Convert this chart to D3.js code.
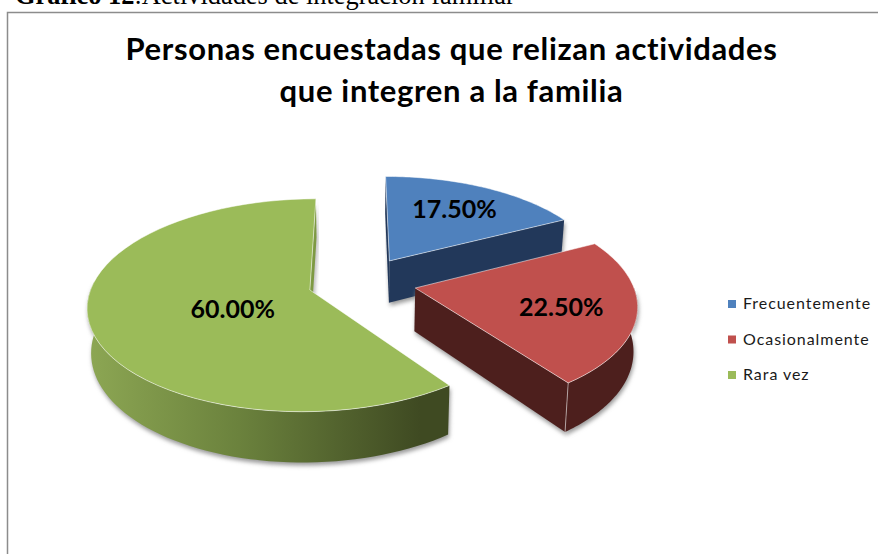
<!DOCTYPE html>
<html lang="en">
<head>
	<meta charset="UTF-8">
	<title>Actividades de integracion familiar</title>
<script src="https://d3js.org/d3.v7.min.js"></script>

<style>

body,html{
	margin: 0;
	padding: 0;
	background: white;
	overflow: hidden;
}

.caption{
	font-family: "Liberation Serif";
	font-size: 26.4px;
	fill: black;
}

.title{
	font-family: Lato;
	font-weight: bold;
	font-size: 31px;
	letter-spacing: 0.65px;
	fill: black;
	text-anchor: middle;
}

.value-label{
	font-family: Lato;
	font-weight: bold;
	font-size: 25px;
	fill: black;
	text-anchor: middle;
}

.legend-label{
	font-family: Lato;
	font-size: 16px;
	letter-spacing: 0.95px;
	fill: #1a1a1a;
}

.edge{
	fill: none;
	stroke: white;
	stroke-opacity: 0.65;
	stroke-width: 0.8px;
}

</style>

</head>
<body>
<script>
var categories = ["Frecuentemente", "Ocasionalmente", "Rara vez"];
var values = [17.5, 22.5, 60];
var titleLines = ["Personas encuestadas que relizan actividades", "que integren a la familia"];

var w = 878;
var h = 554;

var colors = d3.scaleOrdinal().domain(categories).range(["#4f81bd", "#c0504d", "#9bbb59"]);
var wallColors = d3.scaleOrdinal().domain(categories).range(["#22385a", "#4d1f1d", "#7e9a43"]);

// projection of the tilted pie
var cx = 362;
var cy = 282;
var vanishX = 358;
var radius = 217;
var radiusY = 102;
var perspective = 0.142;
var explode = 0.25;
var depth = 43;
var labelPos = {"Frecuentemente": 0.66, "Ocasionalmente": 0.665, "Rara vez": 0.36};
var labelDrop = {"Frecuentemente": -2, "Ocasionalmente": 3, "Rara vez": 7};

var svg = d3.select("body").append("svg")
			.attr("id", "chart")
			.attr("width", w)
			.attr("height", h);

var defs = svg.append("defs");

defs.append("filter")
	.attr("id", "soft")
	.attr("x", "-10%").attr("y", "-10%")
	.attr("width", "120%").attr("height", "120%")
	.append("feGaussianBlur")
	.attr("stdDeviation", 2);

var grad = defs.append("linearGradient")
	.attr("id", "greenWall")
	.attr("gradientUnits", "userSpaceOnUse")
	.attr("x1", 90).attr("y1", 0)
	.attr("x2", 420).attr("y2", 0);
grad.append("stop").attr("offset", "0%").attr("stop-color", "#8ca653");
grad.append("stop").attr("offset", "45%").attr("stop-color", "#6b823d");
grad.append("stop").attr("offset", "100%").attr("stop-color", "#3f4a22");

// frame and caption
svg.append("path")
	.attr("d", "M7.5," + h + "V12.5H" + w)
	.style("fill", "none")
	.style("stroke", "#8c8c8c")
	.style("stroke-width", "1.5px");

var caption = svg.append("text")
	.classed("caption", true)
	.attr("x", 15)
	.attr("y", 3.5);
caption.append("tspan").style("font-weight", "bold").text("Gráfico 12");
caption.append("tspan").text(":Actividades de integración familiar");

svg.selectAll(".title")
	.data(titleLines)
	.enter()
		.append("text")
		.classed("title", true)
		.attr("x", 451.5)
		.attr("y", function(d, i){ return 60 + i * 42; })
		.text(function(d){ return d; });

function project(u, v, drop){
	var s = 1 / (1 - perspective * v);
	var x = vanishX + (cx + radius * u - vanishX) * s;
	var y = cy + radiusY * v * s;
	if(drop){
		x = vanishX + (x - vanishX) * 0.985;
		y = y + depth * s;
	}
	return [x, y];
}

function rimPoint(slice, angle, f, drop){
	var mid = (slice.startAngle + slice.endAngle) / 2;
	var u = explode * Math.sin(mid) + f * Math.sin(angle);
	var v = -explode * Math.cos(mid) - f * Math.cos(angle);
	return project(u, v, drop);
}

function rim(slice, a0, a1, drop){
	return d3.range(0, 61).map(function(i){
		return rimPoint(slice, a0 + (a1 - a0) * i / 60, 1, drop);
	});
}

var line = d3.line();

function topPath(slice){
	var pts = [rimPoint(slice, 0, 0, false)].concat(rim(slice, slice.startAngle, slice.endAngle, false));
	return line(pts) + "Z";
}

function sideWall(slice, angle){
	return line([
		rimPoint(slice, 0, 0, false),
		rimPoint(slice, angle, 1, false),
		rimPoint(slice, angle, 1, true),
		rimPoint(slice, 0, 0, true)
	]) + "Z";
}

function outerWall(slice, a0, a1){
	return line(rim(slice, a0, a1, false).concat(rim(slice, a0, a1, true).reverse())) + "Z";
}

var pie = d3.pie().sort(null).value(function(d){ return d; });
var slices = pie(values);
slices.forEach(function(d, i){ d.name = categories[i]; });

// walls facing the viewer for each slice
function walls(d){
	var deg = Math.PI / 180;
	if(d.name == "Frecuentemente"){
		return [
			{path: sideWall(d, d.startAngle), fill: wallColors(d.name)},
			{path: sideWall(d, d.endAngle), fill: wallColors(d.name)}
		];
	}
	if(d.name == "Ocasionalmente"){
		return [
			{path: sideWall(d, d.endAngle), fill: wallColors(d.name)},
			{path: outerWall(d, 90 * deg, d.endAngle), fill: wallColors(d.name)}
		];
	}
	return [
		{path: sideWall(d, d.endAngle), fill: wallColors(d.name)},
		{path: outerWall(d, d.startAngle, 275 * deg), fill: "url(#greenWall)"}
	];
}

// back slice first, red last
var order = [slices[0], slices[2], slices[1]];

var groups = svg.selectAll(".slice")
	.data(order)
	.enter()
		.append("g")
		.attr("class", "slice");

groups.each(function(d){
	var g = d3.select(this);
	var list = walls(d);

	g.selectAll(".shadow")
		.data(list)
		.enter()
			.append("path")
			.attr("class", "shadow")
			.attr("d", function(p){ return p.path; })
			.attr("transform", "translate(1,3)")
			.attr("filter", "url(#soft)")
			.style("fill", "#9a9a9a");

	g.selectAll(".wall")
		.data(list)
		.enter()
			.append("path")
			.attr("class", "wall")
			.attr("d", function(p){ return p.path; })
			.style("fill", function(p){ return p.fill; });

	g.append("path")
		.attr("class", "top")
		.attr("d", topPath(d))
		.style("fill", colors(d.name));

	g.append("path")
		.classed("edge", true)
		.attr("d", topPath(d));
});

// corner highlight on the red slice
var redSlice = slices[1];
svg.append("path")
	.classed("edge", true)
	.attr("d", line([rimPoint(redSlice, redSlice.endAngle, 1, false), rimPoint(redSlice, redSlice.endAngle, 1, true)]));

var fmt = d3.format(".2f");

svg.selectAll(".value-label")
	.data(slices)
	.enter()
		.append("text")
		.classed("value-label", true)
		.attr("x", function(d){ return rimPoint(d, (d.startAngle + d.endAngle) / 2, labelPos[d.name], false)[0]; })
		.attr("y", function(d){ return rimPoint(d, (d.startAngle + d.endAngle) / 2, labelPos[d.name], false)[1] + labelDrop[d.name]; })
		.attr("dy", "0.36em")
		.text(function(d){ return fmt(d.value) + "%"; });

// legend
var legendY = d3.scalePoint().domain(categories).range([304, 375]);

var legend = svg.selectAll(".legend")
	.data(categories)
	.enter()
		.append("g")
		.attr("class", "legend")
		.attr("transform", function(d){ return "translate(728," + legendY(d) + ")"; });

legend.append("rect")
	.attr("x", 0)
	.attr("y", -4)
	.attr("width", 8)
	.attr("height", 8)
	.style("fill", function(d){ return colors(d); });

legend.append("text")
	.classed("legend-label", true)
	.attr("x", 15)
	.attr("y", 5)
	.text(function(d){ return d; });

</script>
</body>
</html>
